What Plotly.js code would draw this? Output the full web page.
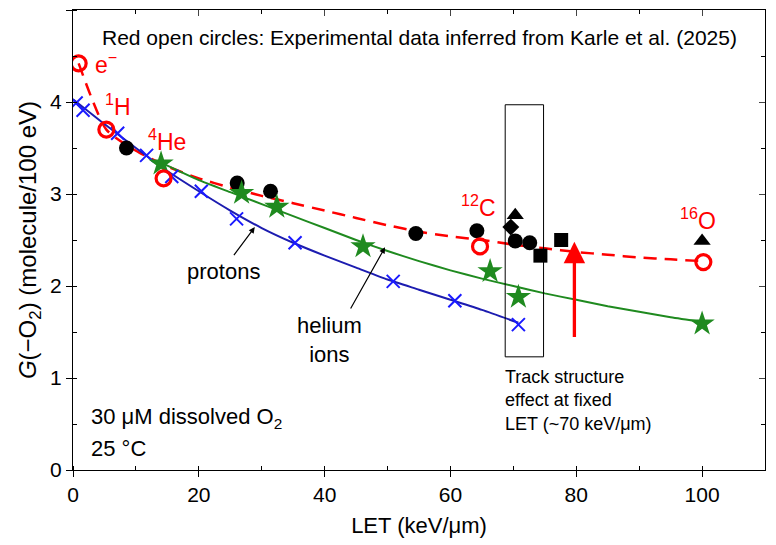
<!DOCTYPE html>
<html>
<head>
<meta charset="utf-8">
<script src="https://cdn.plot.ly/plotly-3.0.1.min.js"></script>
<style>html,body{margin:0;padding:0;background:#fff}</style>
</head>
<body>
<div id="chart" style="width:776px;height:545px"></div>
<script>
// Red open circles: experimental data (Karle et al. 2025)
const expX = [0.9, 5.3, 14.4, 64.7, 100.2];
const expY = [4.42, 3.70, 3.17, 2.43, 2.26];
const expLabels = ['e<sup>−</sup>', '<sup>1</sup>H', '<sup>4</sup>He', '<sup>12</sup>C', '<sup>16</sup>O'];
// Red dashed curve
const fitX = [0.9, 5.3, 10, 15, 20, 25, 30, 35, 40, 45, 50, 55, 60, 65, 70, 75, 80, 85, 90, 95, 100.2];
const fitY = [4.42, 3.70, 3.47, 3.30, 3.17, 3.07, 2.98, 2.90, 2.82, 2.74, 2.66, 2.59, 2.54, 2.50, 2.45, 2.41, 2.37, 2.34, 2.31, 2.29, 2.27];
// Protons (blue crosses + curve)
const protonX = [0.5, 1.6, 7.1, 11.7, 15.7, 20.4, 26.0, 35.3, 50.9, 60.7, 70.8];
const protonY = [3.99, 3.91, 3.66, 3.42, 3.19, 3.03, 2.73, 2.47, 2.05, 1.84, 1.58];
const protonLineX = [0, 5, 10, 15, 20, 25, 30, 35, 40, 45, 50, 55, 60, 65, 70.8];
const protonLineY = [4.03, 3.76, 3.50, 3.25, 3.03, 2.82, 2.63, 2.47, 2.33, 2.20, 2.07, 1.96, 1.85, 1.74, 1.60];
// Helium ions (green stars + curve)
const heliumX = [14.0, 26.8, 32.4, 46.1, 66.3, 70.8, 100];
const heliumY = [3.33, 3.01, 2.86, 2.43, 2.16, 1.88, 1.59];
const heliumLineX = [14, 20, 25, 30, 35, 40, 45, 50, 55, 60, 65, 70, 75, 80, 85, 90, 95, 100];
const heliumLineY = [3.34, 3.15, 3.02, 2.89, 2.76, 2.63, 2.50, 2.38, 2.27, 2.17, 2.08, 2.00, 1.92, 1.85, 1.78, 1.72, 1.66, 1.61];
// Other (black) data
const blackCircleX = [8.5, 26.1, 31.4, 54.5, 64.2, 70.3, 72.6];
const blackCircleY = [3.50, 3.12, 3.03, 2.57, 2.60, 2.49, 2.47];
const blackTriangleX = [70.3, 100];
const blackTriangleY = [2.77, 2.49];
const blackDiamondX = [69.6];
const blackDiamondY = [2.64];
const blackSquareX = [74.3, 77.6];
const blackSquareY = [2.33, 2.50];
// Tick values
const xTicks = [0, 20, 40, 60, 80, 100];
const yTicks = [0, 1, 2, 3, 4, 5];

const FONT = 'Liberation Sans, Arial, sans-serif';
const RED = '#ff0000';
const BLUE_LINE = '#1c1cb0';
const BLUE_MARK = '#1a1aff';
const GREEN = '#1f8a1f';

const traces = [
  {x: fitX, y: fitY, mode: 'lines', line: {color: RED, width: 2.5, dash: '13px,8px', shape: 'spline', smoothing: 0.6}, hoverinfo: 'skip'},
  {x: protonLineX, y: protonLineY, mode: 'lines', line: {color: BLUE_LINE, width: 2, shape: 'spline', smoothing: 0.6}},
  {x: heliumLineX, y: heliumLineY, mode: 'lines', line: {color: GREEN, width: 2, shape: 'spline', smoothing: 0.6}},
  {x: protonX, y: protonY, mode: 'markers', marker: {symbol: 'x-thin', size: 13, line: {color: BLUE_MARK, width: 2}}},
  {x: blackCircleX, y: blackCircleY, mode: 'markers', marker: {symbol: 'circle', size: 15, color: '#000'}},
  {x: blackTriangleX, y: blackTriangleY, mode: 'markers', marker: {symbol: 'triangle-up', size: 15, color: '#000'}},
  {x: blackDiamondX, y: blackDiamondY, mode: 'markers', marker: {symbol: 'diamond', size: 13, color: '#000'}},
  {x: blackSquareX, y: blackSquareY, mode: 'markers', marker: {symbol: 'square', size: 14, color: '#000'}},
  {x: heliumX, y: heliumY, mode: 'markers', marker: {symbol: 'star', size: 19, color: GREEN, line: {width: 0}}},
  {x: expX, y: expY, mode: 'markers', marker: {symbol: 'circle-open', size: 15, color: RED, line: {width: 3.2, color: RED}}},
  {x: [null], y: [null], xaxis: 'x2', yaxis: 'y2', mode: 'markers', hoverinfo: 'skip'}
];

const labelPos = [
  {x: 3.2, y: 4.42}, {x: 4.8, y: 3.97}, {x: 11.6, y: 3.59}, {x: 61.3, y: 2.87}, {x: 96.2, y: 2.73}
];

const annotations = [];
expLabels.forEach((t, i) => {
  annotations.push({x: labelPos[i].x, y: labelPos[i].y, xref: 'x', yref: 'y', text: t, showarrow: false,
    xanchor: 'left', yanchor: 'middle', font: {family: FONT, size: 23, color: RED}});
});
annotations.push(
  {xref: 'paper', yref: 'y', x: 0.5, y: 4.70, text: 'Red open circles: Experimental data inferred from Karle et al. (2025)',
   showarrow: false, xanchor: 'center', yanchor: 'middle', font: {family: FONT, size: 21, color: '#000'}},
  {x: 24.0, y: 2.16, xref: 'x', yref: 'y', text: 'protons', showarrow: false, font: {family: FONT, size: 22, color: '#000'}},
  {x: 28.9, y: 2.64, xref: 'x', yref: 'y', ax: 25.4, ay: 2.32, axref: 'x', ayref: 'y', text: '', showarrow: true,
   arrowhead: 2, arrowsize: 1, arrowwidth: 1.2, arrowcolor: '#000'},
  {x: 40.7, y: 1.41, xref: 'x', yref: 'y', text: 'helium<br>ions', showarrow: false, font: {family: FONT, size: 22, color: '#000'}},
  {x: 49.6, y: 2.42, xref: 'x', yref: 'y', ax: 44.0, ay: 1.74, axref: 'x', ayref: 'y', text: '', showarrow: true,
   arrowhead: 2, arrowsize: 1, arrowwidth: 1.2, arrowcolor: '#000'},
  {x: 79.7, y: 2.48, xref: 'x', yref: 'y', ax: 79.7, ay: 1.43, axref: 'x', ayref: 'y', text: '', showarrow: true,
   arrowhead: 2, arrowsize: 1.3, arrowwidth: 3.3, arrowcolor: RED},
  {x: 68.4, y: 0.76, xref: 'x', yref: 'y', text: 'Track structure<br>effect at fixed<br>LET (~70 keV/μm)', showarrow: false,
   xanchor: 'left', yanchor: 'middle', align: 'left', font: {family: FONT, size: 18, color: '#000'}},
  {x: 2.5, y: 0.57, xref: 'x', yref: 'y', text: '30 μM dissolved O<sub>2</sub>', showarrow: false,
   xanchor: 'left', yanchor: 'middle', font: {family: FONT, size: 22, color: '#000'}},
  {x: 2.5, y: 0.23, xref: 'x', yref: 'y', text: '25 °C', showarrow: false,
   xanchor: 'left', yanchor: 'middle', font: {family: FONT, size: 22, color: '#000'}}
);

const axisCommon = {showgrid: false, zeroline: false, showline: true, linecolor: '#000', linewidth: 1,
  tickcolor: '#000', ticklen: 6, tickwidth: 1, tickfont: {family: FONT, size: 21, color: '#000'}};

const layout = {
  width: 776, height: 545,
  margin: {l: 73, r: 11, t: 10, b: 75},
  paper_bgcolor: '#fff', plot_bgcolor: '#fff',
  showlegend: false,
  font: {family: FONT, color: '#000'},
  xaxis: Object.assign({}, axisCommon, {range: [0, 110], tickvals: xTicks, ticks: 'outside',
    minor: {dtick: 10, tick0: 0, ticks: 'inside', ticklen: 4, tickcolor: '#000'},
    title: {text: 'LET (keV/μm)', font: {family: FONT, size: 22, color: '#000'}, standoff: 12}}),
  yaxis: Object.assign({}, axisCommon, {range: [0, 5], tickvals: yTicks, ticks: 'outside',
    minor: {dtick: 0.5, tick0: 0, ticks: 'inside', ticklen: 4, tickcolor: '#000'},
    title: {text: '<i>G</i>(−O<sub>2</sub>) (molecule/100 eV)', font: {family: FONT, size: 24, color: '#000'}, standoff: 6}}),
  xaxis2: {overlaying: 'x', side: 'top', anchor: 'y2', range: [0, 110], tickvals: xTicks, ticks: 'inside', ticklen: 6,
    showticklabels: false, showline: true, linecolor: '#000', showgrid: false, zeroline: false,
    minor: {dtick: 10, tick0: 0, ticks: 'inside', ticklen: 4, tickcolor: '#000'}},
  yaxis2: {overlaying: 'y', side: 'right', anchor: 'x2', range: [0, 5], tickvals: yTicks, ticks: 'inside', ticklen: 6,
    showticklabels: false, showline: true, linecolor: '#000', showgrid: false, zeroline: false,
    minor: {dtick: 0.5, tick0: 0, ticks: 'inside', ticklen: 4, tickcolor: '#000'}},
  shapes: [
    {type: 'rect', xref: 'x', yref: 'y', x0: 68.7, x1: 74.8, y0: 1.23, y1: 3.97, line: {color: '#000', width: 1}}
  ],
  annotations: annotations
};

Plotly.newPlot('chart', traces, layout, {staticPlot: true, displayModeBar: false});
</script>
</body>
</html>
